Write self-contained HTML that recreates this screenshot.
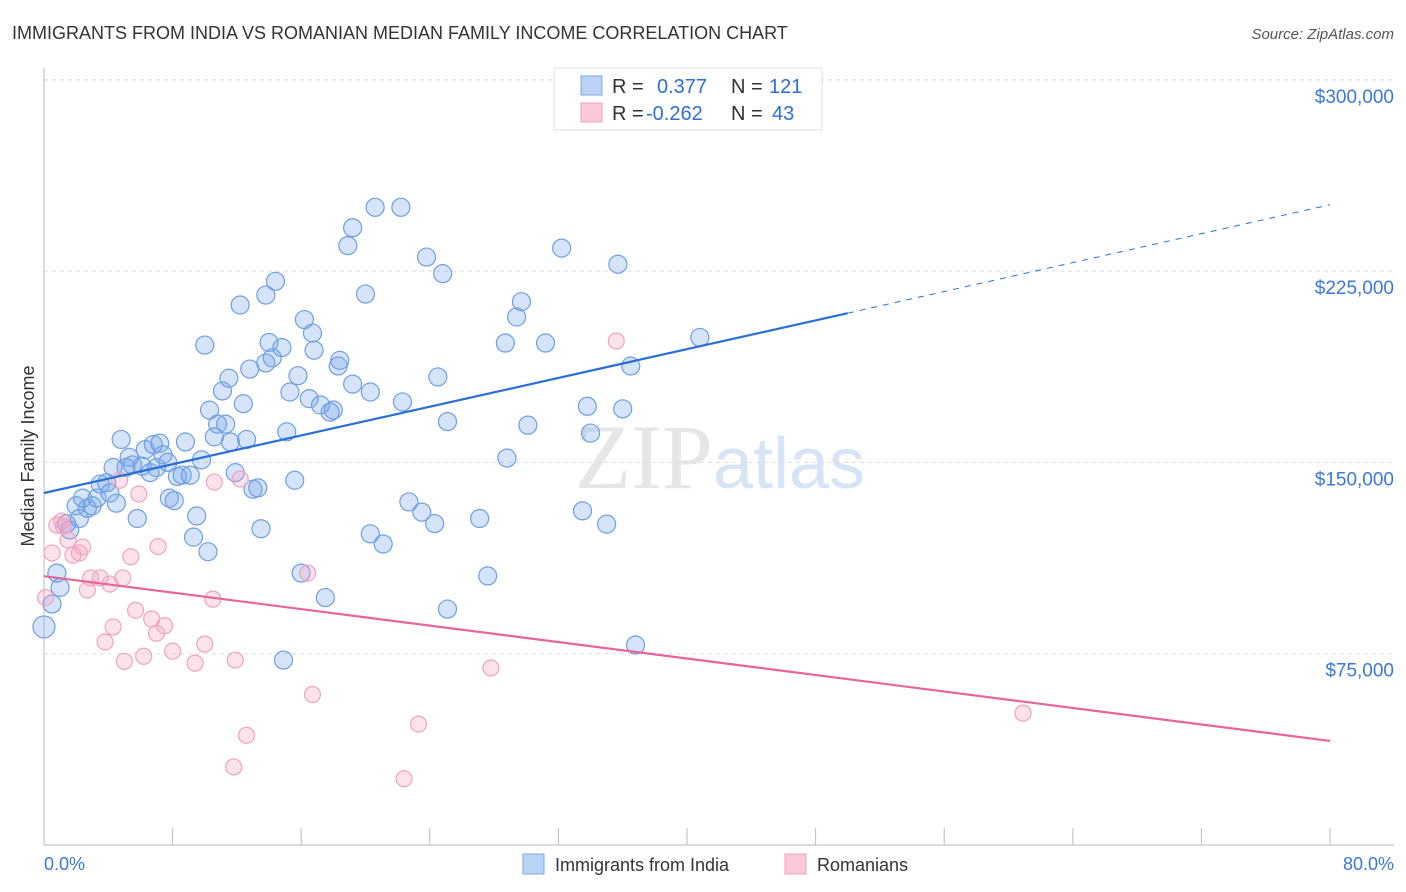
<!DOCTYPE html>
<html><head><meta charset="utf-8">
<style>
body{margin:0;background:#fff;font-family:"Liberation Sans",sans-serif;}
svg{display:block}
</style></head>
<body>
<svg id="chart" width="1406" height="892" xmlns="http://www.w3.org/2000/svg">
<text x="12" y="39" font-size="18" fill="#333">IMMIGRANTS FROM INDIA VS ROMANIAN MEDIAN FAMILY INCOME CORRELATION CHART</text>
<text x="1394" y="39" font-size="15" fill="#555" text-anchor="end" font-style="italic">Source: ZipAtlas.com</text>
<text x="720" y="488" font-size="92" fill="#e6e6e6" text-anchor="middle" font-family="Liberation Serif">ZIP<tspan fill="#d6e4f5" font-family="Liberation Sans" font-size="72">atlas</tspan></text>
<g id="grid"></g>
<g id="axes"></g>
<g id="points"></g>
<g id="trends"></g>
<text transform="translate(34,456) rotate(-90)" font-size="18" fill="#333" text-anchor="middle">Median Family Income</text>
<g>
<rect x="554" y="68" width="268" height="62" fill="#fff" stroke="#ddd"/>
<rect x="581" y="76" width="21" height="19" fill="#b9d3f5" stroke="#7fa9e6"/>
<rect x="581" y="103" width="21" height="19" fill="#fcc7d7" stroke="#f2a0bd"/>
<text x="612" y="93" font-size="20" fill="#333">R = <tspan x="657" fill="#2e6fd6">0.377</tspan><tspan x="731" fill="#333">N = </tspan><tspan x="769" fill="#2e6fd6">121</tspan></text>
<text x="612" y="120" font-size="20" fill="#333">R = <tspan x="646" fill="#2e6fd6">-0.262</tspan><tspan x="731" fill="#333">N = </tspan><tspan x="772" fill="#2e6fd6">43</tspan></text>
</g>
<g>
<rect x="523" y="854" width="21" height="20" fill="#b9d3f5" stroke="#7fa9e6"/>
<text x="555" y="871" font-size="18" fill="#333">Immigrants from India</text>
<rect x="785" y="854" width="21" height="20" fill="#fcc7d7" stroke="#f2a0bd"/>
<text x="817" y="871" font-size="18" fill="#333">Romanians</text>
</g>
</svg>
<script>
const xTicks=[0,8,16,24,32,40,48,56,64,72,80];
const yTicks=[75,150,225,300];
const yTickLabels=["$75,000","$150,000","$225,000","$300,000"];
const indiaX=[0.0,0.5,0.8,1.0,1.4,1.6,2.0,2.2,2.4,2.7,3.0,3.3,3.5,3.9,4.1,4.3,4.5,4.8,5.1,5.3,5.5,5.8,6.1,6.3,6.6,6.8,7.0,7.2,7.4,7.7,7.8,8.1,8.3,8.6,8.8,9.1,9.3,9.5,9.8,10.0,10.2,10.3,10.6,10.8,11.1,11.3,11.5,11.6,11.9,12.2,12.4,12.6,12.8,13.0,13.3,13.5,13.8,13.8,14.0,14.2,14.4,14.8,14.9,15.1,15.3,15.6,15.8,16.0,16.2,16.5,16.7,16.8,17.2,17.5,17.8,18.0,18.3,18.4,18.9,19.2,19.2,20.0,20.3,20.3,20.6,21.1,22.2,22.3,22.7,23.5,23.8,24.3,24.5,24.8,25.1,25.1,27.1,27.6,28.7,28.8,29.4,29.7,30.1,31.2,32.2,33.5,33.8,34.0,35.0,35.7,36.0,36.5,36.8,40.8];
const indiaY=[85.5,94.5,106.6,101,126,123.5,133,128,136,132,133,136,141.5,142,138,148,134,159,148,152,149,128,148.5,155,146,157,148,157.5,153,150,136,135,144.5,145,158,145,120.7,129,151,196,115,170.5,160,165,178,165,183,158,146,211.7,173,159,186.6,139.5,140,124,215.6,189,197,191,221,195,72.5,162,177.6,143,184,106.6,206,175,200.7,194,172.5,97,169.7,170.5,187.8,190,235,242,180.7,216,122,177.6,250,118,250,173.7,134.5,130.5,230.5,126,183.5,224,92.5,166,128,105.5,196.8,151.7,207,213,164.6,196.8,234,131,172,161.5,125.8,227.7,171,187.8,78.4,199];
const romX=[0.1,0.5,0.8,1.2,1.5,1.8,2.2,2.4,2.7,2.9,3.5,4.1,4.3,3.8,4.9,5.0,5.4,5.7,5.9,6.2,6.7,7.0,7.1,7.5,8.0,9.4,10.0,10.5,10.6,11.9,11.8,12.2,12.6,16.4,16.7,22.4,23.3,27.8,35.6,60.9,4.7,1.1];
const romY=[97,114.5,125.4,125,119.6,113.7,114.5,116.8,100,104.7,104.7,102.3,85.5,79.6,104.7,72,113,92,137.6,74,88.6,83,117,86,76,71.3,78.8,96.4,142.3,72.5,30.6,143.5,43,106.6,59,26,47.4,69.4,197.6,51.7,143,127];
const indiaTrend=[[0,138],[50,208.5]];
const indiaTrendExt=[[50,208.5],[80,251]];
const romTrend=[[0,105.4],[80,40.8]];
const NS="http://www.w3.org/2000/svg";
const X=v=>44+v*(1330-44)/80;
const Y=v=>845-v*(191.3/75);
function mk(tag,attrs,parent){const e=document.createElementNS(NS,tag);for(const k in attrs)e.setAttribute(k,attrs[k]);parent.appendChild(e);return e;}
const grid=document.getElementById('grid'),axes=document.getElementById('axes'),pts=document.getElementById('points'),tr=document.getElementById('trends');
yTicks.forEach((t,i)=>{
 const l=mk('line',{x1:44,x2:1394,y1:Y(t),y2:Y(t),stroke:'#ddd','stroke-dasharray':'4,4'},grid);
 
 
 const tx=mk('text',{x:1394,y:Y(t)+23,'font-size':19,fill:'#3a78d8','text-anchor':'end'},axes);
 tx.textContent=yTickLabels[i];
 
 
});
const topGrid=mk('line',{x1:44,x2:1394,y1:80,y2:80,stroke:'#ddd','stroke-dasharray':'4,4'},grid);


const ax=mk('line',{x1:44,x2:1394,y1:845,y2:845,stroke:'#bbb'},axes);


const ay=mk('line',{x1:44,x2:44,y1:68,y2:845,stroke:'#bbb'},axes);


xTicks.forEach(t=>{
 const l=mk('line',{x1:X(t),x2:X(t),y1:828,y2:845,stroke:'#bbb'},axes);
 
 
});
[[0,'0.0%','start',44],[80,'80.0%','end',1394]].forEach(a=>{
 const tx=mk('text',{x:a[3],y:870,'font-size':18,fill:'#3a78d8','text-anchor':a[2]},axes);
 tx.textContent=a[1];
 
 
});
indiaX.forEach((v,i)=>{
 const c=mk('circle',{cx:X(v),cy:Y(indiaY[i]),r:i==0?11:9,fill:'rgba(120,165,235,0.3)',stroke:'#6f9ee2','stroke-width':1.2},pts);
 
 
});
romX.forEach((v,i)=>{
 const c=mk('circle',{cx:X(v),cy:Y(romY[i]),r:8,fill:'rgba(245,160,190,0.3)',stroke:'#f0a3c0','stroke-width':1.2},pts);
 
 
});
function line(d,color,dash,name){
 const l=mk('line',{x1:X(d[0][0]),y1:Y(d[0][1]),x2:X(d[1][0]),y2:Y(d[1][1]),stroke:color,'stroke-width':dash?1:2.2},tr);
 if(dash)l.setAttribute('stroke-dasharray','6,6');
 
 
}
line(indiaTrend,'#2a6fd6',false,'india-trend-line');
line(indiaTrendExt,'#2a6fd6',true,'india-trend-extension');
line(romTrend,'#e8649a',false,'romanian-trend-line');
</script>
</body></html>
